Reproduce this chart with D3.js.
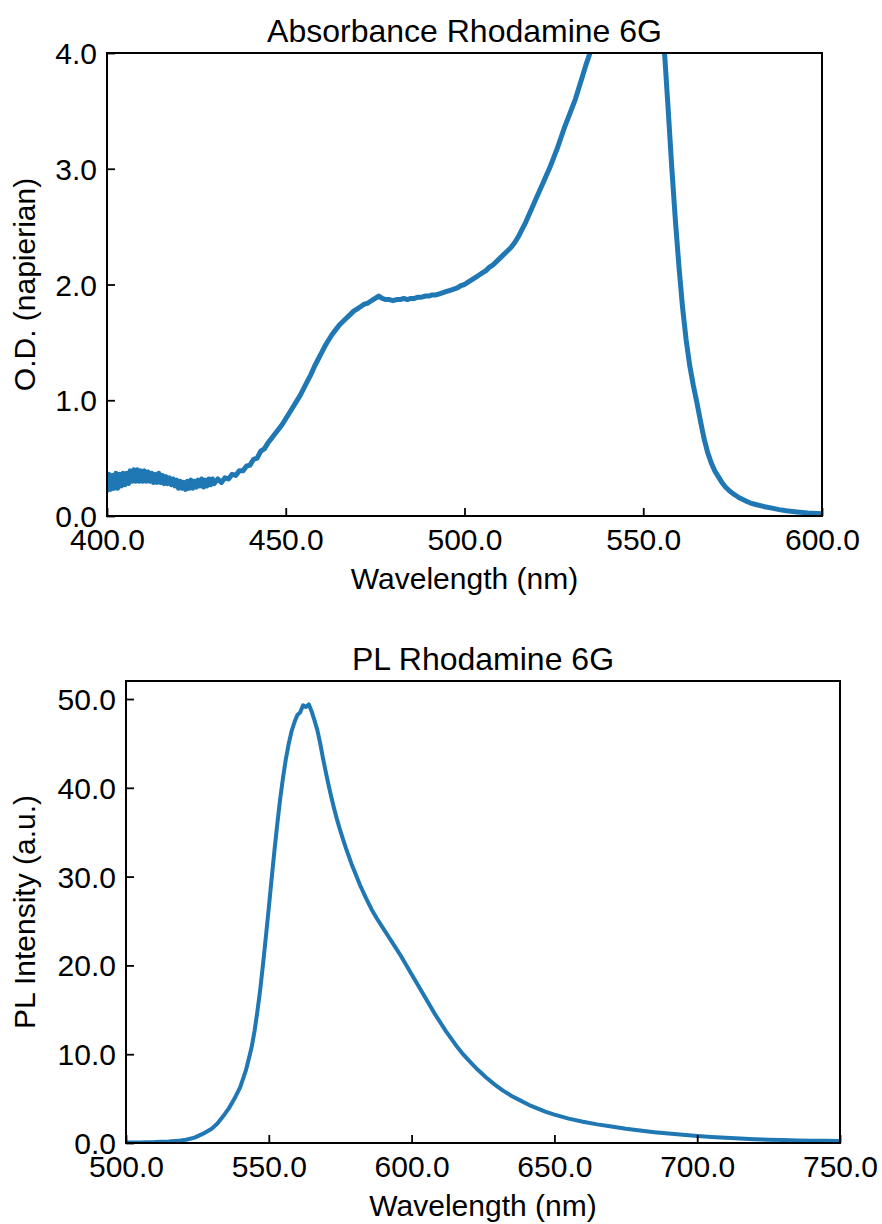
<!DOCTYPE html>
<html><head><meta charset="utf-8">
<script src="https://cdn.jsdelivr.net/npm/d3@7"></script>
<style>
body{margin:0;background:#fff}
text{font-family:"Liberation Sans",Arial,Helvetica,sans-serif;fill:#000}
</style>
</head><body>
<svg id="c" width="882" height="1224"></svg>
<script>
// ---------- Data ----------
const absTitle = "Absorbance Rhodamine 6G";
const plTitle = "PL Rhodamine 6G";
const xLabel = "Wavelength (nm)";
const absYLabel = "O.D. (napierian)";
const plYLabel = "PL Intensity (a.u.)";

const absXTicks = [400, 450, 500, 550, 600];
const absYTicks = [0, 1, 2, 3, 4];
const plXTicks = [500, 550, 600, 650, 700, 750];
const plYTicks = [0, 10, 20, 30, 40, 50];

// noisy low-wavelength segment, sampled every 0.5 nm from 400 to 430 nm
const absNoisyWl = d3.range(400, 430.25, 0.5);
const absNoisy = [0.22,0.36,0.23,0.35,0.24,0.37,0.24,0.36,0.26,0.37,
  0.27,0.37,0.28,0.39,0.30,0.40,0.30,0.40,0.30,0.39,
  0.30,0.39,0.30,0.38,0.30,0.37,0.29,0.36,0.29,0.37,
  0.29,0.35,0.28,0.34,0.28,0.33,0.27,0.32,0.26,0.31,
  0.24,0.30,0.24,0.29,0.23,0.30,0.24,0.31,0.24,0.30,
  0.25,0.31,0.26,0.32,0.25,0.31,0.26,0.32,0.27,0.32,
  0.28];

const absWl = [431,432,433,434,435,436,437,438,439,440,
  441,442,443,444,445,446,447,448,449,450,
  451,452,453,454,455,456,457,458,459,460,
  461,462,463,464,465,466,467,468,469,470,
  471,472,473,474,475,476,477,478,479,480,
  481,482,483,484,485,486,487,488,489,490,
  491,492,493,494,495,496,497,498,499,500,
  501,502,503,504,505,506,507,508,509,510,
  511,512,513,514,515,516,517,518,519,520,
  521,522,523,524,525,526,527,528,529,530,
  531,532,533,534,535,536,538,540,545,550,
  553,554,555,556,557,558,559,560,561,562,
  563,564,565,566,567,568,569,570,571,572,
  573,574,575,576,577,578,579,580,582,584,
  586,588,590,593,596,600];
const absOD = [0.32,0.29,0.33,0.32,0.36,0.35,0.39,0.39,0.43,0.44,
  0.49,0.50,0.56,0.58,0.63,0.67,0.71,0.75,0.79,0.84,
  0.89,0.94,0.99,1.04,1.10,1.16,1.22,1.29,1.35,1.41,
  1.47,1.52,1.57,1.61,1.65,1.68,1.71,1.74,1.77,1.79,
  1.81,1.83,1.84,1.86,1.88,1.90,1.88,1.87,1.87,1.86,
  1.87,1.87,1.88,1.87,1.88,1.88,1.89,1.89,1.90,1.90,
  1.91,1.91,1.92,1.93,1.94,1.95,1.96,1.97,1.99,2.00,
  2.02,2.04,2.06,2.08,2.10,2.12,2.15,2.17,2.20,2.23,
  2.26,2.29,2.32,2.36,2.41,2.47,2.53,2.60,2.67,2.74,
  2.81,2.88,2.95,3.02,3.10,3.18,3.27,3.36,3.44,3.52,
  3.60,3.70,3.80,3.90,3.99,4.10,4.30,4.50,4.90,5.00,
  4.80,4.60,4.25,3.98,3.50,3.00,2.55,2.15,1.80,1.52,
  1.30,1.13,0.98,0.82,0.67,0.55,0.46,0.39,0.34,0.29,
  0.25,0.22,0.195,0.175,0.155,0.14,0.125,0.112,0.095,0.08,
  0.068,0.055,0.045,0.035,0.027,0.02];

const plWl = [500,505,510,515,518,521,524,527,530,532,
  534,536,538,540,542,543,544,545,546,547,
  548,549,550,551,552,553,554,555,556,557,
  558,559,560,561,562,563,564,565,566,567,
  568,569,570,571,572,573,574,575,576,577,
  578,579,580,582,584,586,588,590,592,594,
  596,598,600,602,604,606,608,610,612,614,
  616,618,620,623,626,629,632,635,638,641,
  644,647,650,655,660,665,670,675,680,685,
  690,695,700,705,710,715,720,725,730,735,
  740,745,750];
const plI = [0.05,0.07,0.10,0.17,0.24,0.36,0.60,1.05,1.60,2.20,
  3.00,3.90,5.00,6.30,8.20,9.50,10.8,12.6,14.8,17.3,
  20.2,23.3,26.5,29.8,33.0,36.0,38.8,41.2,43.3,45.0,
  46.4,47.4,48.2,48.5,49.3,49.1,49.4,48.6,47.6,46.5,
  45.0,43.3,41.7,40.2,38.8,37.5,36.3,35.2,34.2,33.2,
  32.3,31.4,30.6,29.0,27.6,26.3,25.2,24.2,23.2,22.2,
  21.2,20.1,19.0,17.9,16.8,15.7,14.6,13.6,12.6,11.7,
  10.8,10.0,9.3,8.3,7.4,6.6,5.9,5.3,4.8,4.3,
  3.9,3.5,3.2,2.75,2.4,2.1,1.85,1.6,1.40,1.22,
  1.07,0.93,0.80,0.68,0.58,0.50,0.43,0.37,0.33,0.29,
  0.26,0.24,0.22];

// ---------- Drawing ----------
const svg = d3.select("#c");
const lineColor = "#1f77b4";
const fs = 30;

function panel(cfg){
  const {left, top, right, bottom} = cfg.box;
  const x = d3.scaleLinear().domain(cfg.xDomain).range([left, right]);
  const y = d3.scaleLinear().domain(cfg.yDomain).range([bottom, top]);
  const g = svg.append("g");
  const clipId = "clip" + cfg.id;
  svg.append("clipPath").attr("id", clipId)
    .append("rect").attr("x", left).attr("y", top)
    .attr("width", right - left).attr("height", bottom - top);

  const line = d3.line().x(d => x(d[0])).y(d => y(d[1]));
  g.append("path").datum(cfg.data)
    .attr("clip-path", `url(#${clipId})`)
    .attr("fill", "none").attr("stroke", lineColor)
    .attr("stroke-width", cfg.lw).attr("stroke-linejoin", "round")
    .attr("stroke-linecap", "round")
    .attr("d", line);

  // axes (ticks inward)
  const xAxis = d3.axisBottom(x).tickValues(cfg.xTicks).tickSizeInner(-8).tickSizeOuter(0)
    .tickFormat(d3.format(".1f")).tickPadding(16);
  const gx = g.append("g").attr("transform", `translate(0,${bottom})`).call(xAxis);
  gx.select(".domain").remove();
  gx.selectAll(".tick line").attr("stroke", "#000").attr("stroke-width", 1.8);
  gx.selectAll(".tick text").attr("font-size", fs).attr("dy", null)
    .attr("y", 34).attr("font-family", "Liberation Sans, Arial, sans-serif");

  const yAxis = d3.axisLeft(y).tickValues(cfg.yTicks).tickSizeInner(-8).tickSizeOuter(0)
    .tickFormat(d3.format(".1f")).tickPadding(10);
  const gy = g.append("g").attr("transform", `translate(${left},0)`).call(yAxis);
  gy.select(".domain").remove();
  gy.selectAll(".tick line").attr("stroke", "#000").attr("stroke-width", 1.8);
  gy.selectAll(".tick text").attr("font-size", fs).attr("dy", "0.35em")
    .attr("x", -10).attr("font-family", "Liberation Sans, Arial, sans-serif");

  // frame
  g.append("rect").attr("x", left).attr("y", top)
    .attr("width", right - left).attr("height", bottom - top)
    .attr("fill", "none").attr("stroke", "#000").attr("stroke-width", 2);

  // title & labels
  g.append("text").attr("x", (left + right) / 2).attr("y", top - 11)
    .attr("text-anchor", "middle").attr("font-size", 32).text(cfg.title);
  g.append("text").attr("x", (left + right) / 2).attr("y", bottom + 73)
    .attr("text-anchor", "middle").attr("font-size", fs).text(cfg.xLabel);
  g.append("text")
    .attr("transform", `translate(35,${(top + bottom) / 2}) rotate(-90)`)
    .attr("text-anchor", "middle").attr("font-size", fs).text(cfg.yLabel);
}

const absData = absNoisyWl.map((w, i) => [w, absNoisy[i]])
  .concat(absWl.map((w, i) => [w, absOD[i]]));
const plData = plWl.map((w, i) => [w, plI[i]]);

panel({id: "a", box: {left: 107, top: 53, right: 822, bottom: 516}, lw: 5,
  xDomain: [400, 600], yDomain: [0, 4], xTicks: absXTicks, yTicks: absYTicks,
  data: absData, title: absTitle, xLabel: xLabel, yLabel: absYLabel});

panel({id: "p", box: {left: 126, top: 681, right: 840, bottom: 1143}, lw: 4,
  xDomain: [500, 750], yDomain: [0, 52.03], xTicks: plXTicks, yTicks: plYTicks,
  data: plData, title: plTitle, xLabel: xLabel, yLabel: plYLabel});
</script>
</body></html>
